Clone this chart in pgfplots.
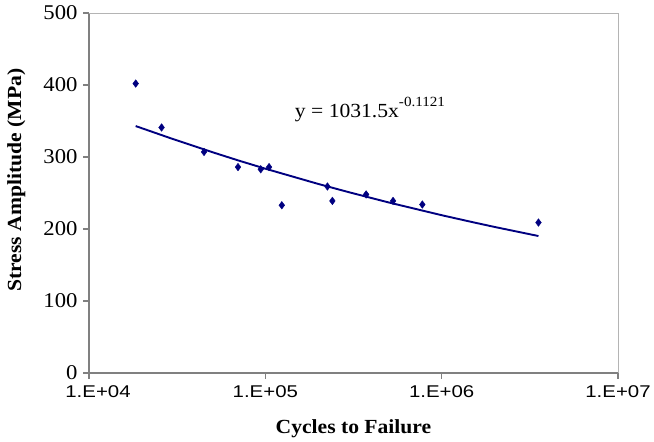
\documentclass[border=0pt]{standalone}
\usepackage{fontspec}
\setmainfont{Liberation Serif}[FakeStretch=1.08]
\newfontfamily\ticksans{Liberation Sans}[FakeStretch=1.2]
\usepackage{pgfplots}
\usepackage{pgfplotstable}
\pgfplotsset{compat=1.18}

\definecolor{navy}{RGB}{0,0,128}
\definecolor{axisgrey}{RGB}{128,128,128}
\definecolor{framegrey}{RGB}{180,180,180}

% Fatigue test results: cycles to failure vs. stress amplitude (MPa)
\pgfplotstableread{
N        S
1.84e4   402
2.58e4   341
4.49e4   307
7.00e4   286
9.42e4   283
1.05e5   286
1.24e5   233
2.25e5   259
2.40e5   239
3.73e5   248
5.30e5   239
7.77e5   234
3.54e6   209
}\fatiguedata

% Power-law fit y = 1031.5 x^{-0.1121}, tabulated over the tested range
\pgfplotstableread{
N        S
1.84e4   342.97
3.00e4   324.85
5.00e4   306.75
7.00e4   295.34
1.00e5   283.77
2.00e5   262.52
3.00e5   250.90
5.00e5   236.90
1.00e6   219.17
1.50e6   209.47
2.00e6   202.80
3.54e6   190.24
}\fitdata

\begin{document}
\begin{tikzpicture}
\begin{axis}[
  scale only axis,
  width=529pt, height=360pt,
  xmode=log, log basis x=10,
  xmin=1e4, xmax=1e7, ymin=0, ymax=500,
  xtick={1e4,1e5,1e6,1e7},
  xticklabels={\hspace*{18pt}1.E+04,1.E+05,1.E+06,1.E+07},
  minor xtick={},
  ytick={0,100,200,300,400,500},
  yticklabels={0,100,200,300,400,500},
  axis x line*=bottom, axis y line*=left,
  axis line style={-, axisgrey, line width=1.2pt},
  tick style={axisgrey, line width=1.2pt},
  tick align=outside, major tick length=6pt,
  x tick label style={font=\ticksans\fontsize{17}{17}\selectfont, yshift=-3pt},
  y tick label style={font=\fontsize{21}{21}\selectfont, xshift=-2pt},
  xlabel={Cycles to Failure},
  ylabel={Stress Amplitude (MPa)},
  label style={font=\bfseries\fontsize{20}{20}\selectfont},
  xlabel style={at={(axis description cs:0.5,-0.1667)}, anchor=base},
  ylabel style={at={(axis description cs:-0.1285,0.536)}, anchor=base},
  clip=false,
]
  \coordinate (sw) at (rel axis cs:0,0);
  \draw[framegrey, line width=1pt] (rel axis cs:0,1) -- (rel axis cs:1,1) -- (rel axis cs:1,0);

  \addplot[navy, line width=1.9pt] table[x=N, y=S] {\fitdata};
  \addplot[only marks, mark=diamond*, mark size=3.8pt,
           mark options={fill=navy, draw=navy}] table[x=N, y=S] {\fatiguedata};

  \node[anchor=base west, font=\fontsize{20}{20}\selectfont, inner sep=0pt]
    at (rel axis cs:0.389,0.711)
    {y = 1031.5x\raisebox{11pt}{\fontsize{14}{14}\selectfont -0.1121}};
\end{axis}
\path (sw) ++(-89pt,-69pt) rectangle ++(654pt,442pt);
\end{tikzpicture}
\end{document}
